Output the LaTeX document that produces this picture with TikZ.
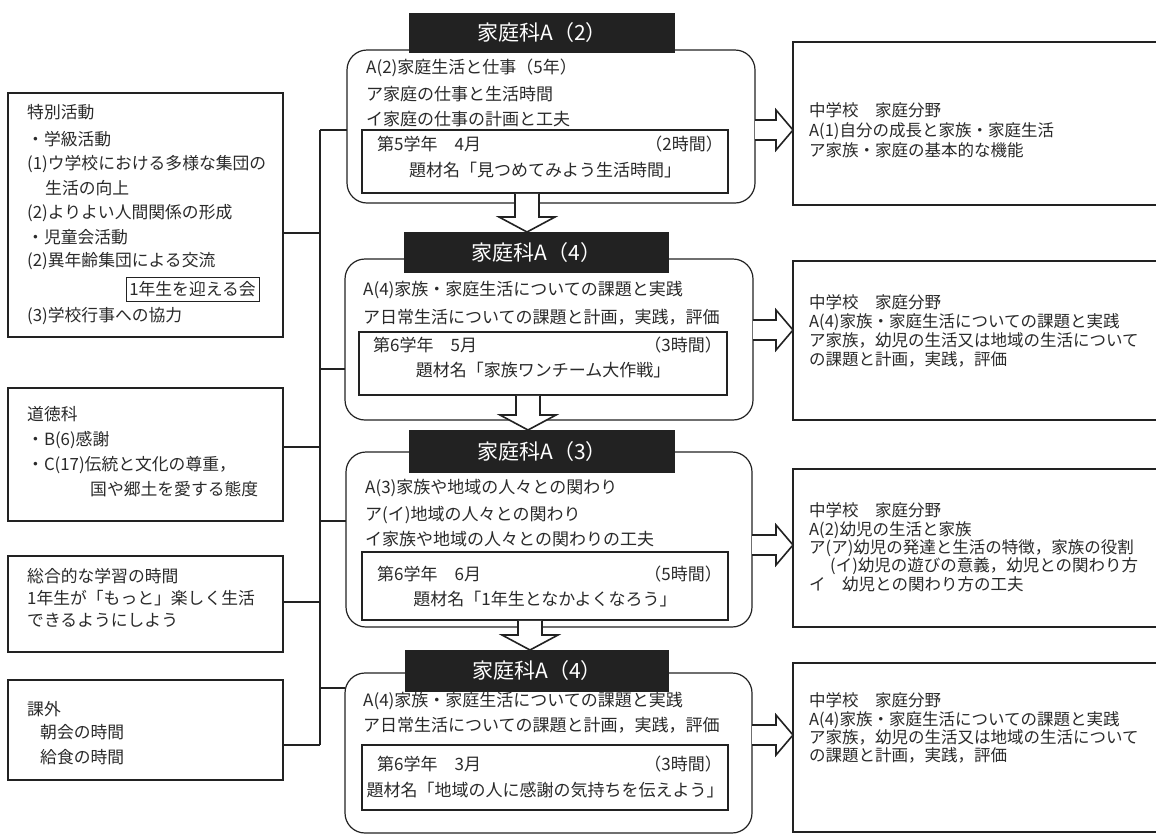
\documentclass[tikz,border=0pt]{standalone}
\usepackage{fontspec}
\setmainfont{Noto Sans CJK JP}
\usetikzlibrary{calc}
\definecolor{ink}{HTML}{222222}
\definecolor{txt}{HTML}{2a2a2a}
\newcommand\rarr[2]{\draw[harr] ($(#1)+(0,-10)$) -- ($(#2)+(-17,-10)$) -- ($(#2)+(-17,-20)$) -- (#2) -- ($(#2)+(-17,20)$) -- ($(#2)+(-17,10)$) -- ($(#1)+(0,10)$);}
\newcommand\darr[2]{\filldraw[harr] ($(#1)+(-12,0.8)$) -- ($(#2)+(-12,-15)$) -- ($(#2)+(-28,-15)$) -- (#2) -- ($(#2)+(28,-15)$) -- ($(#2)+(12,-15)$) -- ($(#1)+(12,0.8)$);}
\begin{document}
\begin{tikzpicture}[x=1pt,y=-1pt,
  lbox/.style={draw=ink, line width=1.2pt, anchor=north west, inner sep=0pt, outer sep=0pt},
  cbox/.style={lbox, rounded corners=20pt},
  ibox/.style={lbox, line width=1.1pt},
  tbox/.style={fill=ink, anchor=north west, inner sep=0pt, outer sep=0pt, text=white, font=\fontsize{21pt}{24pt}\selectfont},
  tx/.style={anchor=west, inner sep=0pt, text=txt, text height=0.86em, text depth=0.14em, font=\fontsize{16.8pt}{19pt}\selectfont},
  ctx/.style={tx, font=\fontsize{17pt}{19pt}\selectfont},
  rtx/.style={tx, font=\fontsize{16.5pt}{18pt}\selectfont},
  wire/.style={draw=ink, line width=1.1pt},
  harr/.style={draw=ink, line width=1.6pt, fill=white, line join=miter}]
\useasboundingbox (0,0) rectangle (1156,836);
\clip (0,0) rectangle (1156,836);
\fill[white] (0,0) rectangle (1156,836);

% ---------- left boxes ----------
\node[lbox, minimum width=275pt, minimum height=244pt] (L1) at (8,93) {};
\node[tx] (L1a) at (27,115) {特別活動};
\node[tx] (L1b) at (27,142) {・学級活動};
\node[tx] (L1c) at (27,166) {(1)ウ学校における多様な集団の};
\node[tx] (L1d) at (45,191) {生活の向上};
\node[tx] (L1e) at (27,215) {(2)よりよい人間関係の形成};
\node[tx] (L1f) at (27,240) {・児童会活動};
\node[tx] (L1g) at (27,263) {(2)異年齢集団による交流};
\node[lbox, line width=1pt, minimum width=133pt, minimum height=24pt, text=txt, font=\fontsize{16.8pt}{19pt}\selectfont] (L1h) at (126,277) {1年生を迎える会};
\node[tx] (L1i) at (27,318) {(3)学校行事への協力};

\node[lbox, minimum width=275pt, minimum height=133pt] (L2) at (8,388) {};
\node[tx] (L2a) at (27,417) {道徳科};
\node[tx] (L2b) at (27,442) {・B(6)感謝};
\node[tx] (L2c) at (27,467) {・C(17)伝統と文化の尊重，};
\node[tx] (L2d) at (90,492) {国や郷土を愛する態度};

\node[lbox, minimum width=275pt, minimum height=96pt] (L3) at (8,556) {};
\node[tx] (L3a) at (27,579) {総合的な学習の時間};
\node[tx] (L3b) at (27,601) {1年生が「もっと」楽しく生活};
\node[tx] (L3c) at (27,623) {できるようにしよう};

\node[lbox, minimum width=275pt, minimum height=100pt] (L4) at (8,680) {};
\node[tx] (L4a) at (27,712) {課外};
\node[tx] (L4b) at (40,735) {朝会の時間};
\node[tx] (L4c) at (40,760) {給食の時間};

% ---------- center boxes ----------
\node[cbox, minimum width=408pt, minimum height=153pt] (C1) at (347,50) {};
\node[ibox, minimum width=366pt, minimum height=63pt] (I1) at (362,130) {};
\node[tbox, minimum width=266pt, minimum height=40pt] (T1) at (409,13) {家庭科A（2）};
\node[ctx] (C1a) at (366,70) {A(2)家庭生活と仕事（5年）};
\node[ctx] (C1b) at (366,97) {ア家庭の仕事と生活時間};
\node[ctx] (C1c) at (366,122) {イ家庭の仕事の計画と工夫};
\node[ctx] (I1a) at (377,147) {第5学年　4月};
\node[ctx, anchor=east] (I1b) at (723,147) {（2時間）};
\node[ctx, anchor=center] (I1c) at (545,173) {題材名「見つめてみよう生活時間」};

\node[cbox, minimum width=408pt, minimum height=161pt] (C2) at (345,259) {};
\node[ibox, minimum width=368pt, minimum height=63pt] (I2) at (359,332) {};
\node[tbox, minimum width=265pt, minimum height=41pt] (T2) at (404,232) {家庭科A（4）};
\node[ctx] (C2a) at (363,292) {A(4)家族・家庭生活についての課題と実践};
\node[ctx] (C2b) at (363,320) {ア日常生活についての課題と計画，実践，評価};
\node[ctx] (I2a) at (373,348) {第6学年　5月};
\node[ctx, anchor=east] (I2b) at (722,348) {（3時間）};
\node[ctx, anchor=center] (I2c) at (543,373) {題材名「家族ワンチーム大作戦」};

\node[cbox, minimum width=406pt, minimum height=175pt] (C3) at (346,452) {};
\node[ibox, minimum width=366pt, minimum height=68pt] (I3) at (362,552) {};
\node[tbox, minimum width=266pt, minimum height=43pt] (T3) at (409,430) {家庭科A（3）};
\node[ctx] (C3a) at (365,490) {A(3)家族や地域の人々との関わり};
\node[ctx] (C3b) at (365,517) {ア(イ)地域の人々との関わり};
\node[ctx] (C3c) at (365,542) {イ家族や地域の人々との関わりの工夫};
\node[ctx] (I3a) at (377,577) {第6学年　6月};
\node[ctx, anchor=east] (I3b) at (722,577) {（5時間）};
\node[ctx, anchor=center] (I3c) at (545,602) {題材名「1年生となかよくなろう」};

\node[cbox, minimum width=407pt, minimum height=160pt] (C4) at (345,673) {};
\node[ibox, minimum width=366pt, minimum height=65pt] (I4) at (362,745) {};
\node[tbox, minimum width=264pt, minimum height=42pt] (T4) at (405,650) {家庭科A（4）};
\node[ctx] (C4a) at (363,703) {A(4)家族・家庭生活についての課題と実践};
\node[ctx] (C4b) at (363,728) {ア日常生活についての課題と計画，実践，評価};
\node[ctx] (I4a) at (377,767) {第6学年　3月};
\node[ctx, anchor=east] (I4b) at (722,767) {（3時間）};
\node[ctx, anchor=center] (I4c) at (545,793) {題材名「地域の人に感謝の気持ちを伝えよう」};

% ---------- right boxes ----------
\node[lbox, minimum width=380pt, minimum height=163pt] (R1) at (793,42) {};
\node[rtx] (R1a) at (809,113) {中学校　家庭分野};
\node[rtx] (R1b) at (809,133) {A(1)自分の成長と家族・家庭生活};
\node[rtx] (R1c) at (809,153) {ア家族・家庭の基本的な機能};

\node[lbox, minimum width=380pt, minimum height=159pt] (R2) at (793,261) {};
\node[rtx] (R2a) at (809,305) {中学校　家庭分野};
\node[rtx] (R2b) at (809,324) {A(4)家族・家庭生活についての課題と実践};
\node[rtx] (R2c) at (809,343) {ア家族，幼児の生活又は地域の生活について};
\node[rtx] (R2d) at (809,362) {の課題と計画，実践，評価};

\node[lbox, minimum width=380pt, minimum height=158pt] (R3) at (793,469) {};
\node[rtx] (R3a) at (809,513) {中学校　家庭分野};
\node[rtx] (R3b) at (809,532) {A(2)幼児の生活と家族};
\node[rtx] (R3c) at (809,550) {ア(ア)幼児の発達と生活の特徴，家族の役割};
\node[rtx] (R3d) at (830,568) {(イ)幼児の遊びの意義，幼児との関わり方};
\node[rtx] (R3e) at (809,587) {イ　幼児との関わり方の工夫};

\node[lbox, minimum width=380pt, minimum height=169pt] (R4) at (793,663) {};
\node[rtx] (R4a) at (809,703) {中学校　家庭分野};
\node[rtx] (R4b) at (809,722) {A(4)家族・家庭生活についての課題と実践};
\node[rtx] (R4c) at (809,740) {ア家族，幼児の生活又は地域の生活について};
\node[rtx] (R4d) at (809,758) {の課題と計画，実践，評価};

% ---------- bus connectors ----------
\coordinate (bt) at (320,130);
\coordinate (j1) at (320,233);
\coordinate (k2) at (320,369);
\coordinate (j2) at (320,447);
\coordinate (k3) at (320,521);
\coordinate (j3) at (320,602);
\coordinate (k4) at (320,688);
\coordinate (bb) at (320,745);
\draw[wire] (bt) -- (bb);
\draw[wire] (bt) -- (bt -| C1.west);
\draw[wire] (k2) -- (k2 -| C2.west);
\draw[wire] (k3) -- (k3 -| C3.west);
\draw[wire] (k4) -- (k4 -| C4.west);
\draw[wire] (L1.east |- j1) -- (j1);
\draw[wire] (L2.east |- j2) -- (j2);
\draw[wire] (L3.east |- j3) -- (j3);
\draw[wire] (L4.east |- bb) -- (bb);

% ---------- right hollow arrows ----------
\coordinate (ay1) at (0,130);
\coordinate (ay2) at (0,330);
\coordinate (ay3) at (0,545);
\coordinate (ay4) at (0,735);
\path (C1.east |- ay1) coordinate (a1s) (R1.west |- ay1) coordinate (a1e);
\path (C2.east |- ay2) coordinate (a2s) (R2.west |- ay2) coordinate (a2e);
\path (C3.east |- ay3) coordinate (a3s) (R3.west |- ay3) coordinate (a3e);
\path (C4.east |- ay4) coordinate (a4s) (R4.west |- ay4) coordinate (a4e);
\rarr{a1s}{a1e}
\rarr{a2s}{a2e}
\rarr{a3s}{a3e}
\rarr{a4s}{a4e}

% ---------- down hollow arrows ----------
\coordinate (dx1) at (527,0);
\coordinate (dx2) at (528,0);
\coordinate (dx3) at (530,0);
\path (I1.south -| dx1) coordinate (d1s) (T2.north -| dx1) coordinate (d1e);
\path (I2.south -| dx2) coordinate (d2s) (T3.north -| dx2) coordinate (d2e);
\path (I3.south -| dx3) coordinate (d3s) (T4.north -| dx3) coordinate (d3e);
\darr{d1s}{d1e}
\darr{d2s}{d2e}
\darr{d3s}{d3e}
\end{tikzpicture}
\end{document}
